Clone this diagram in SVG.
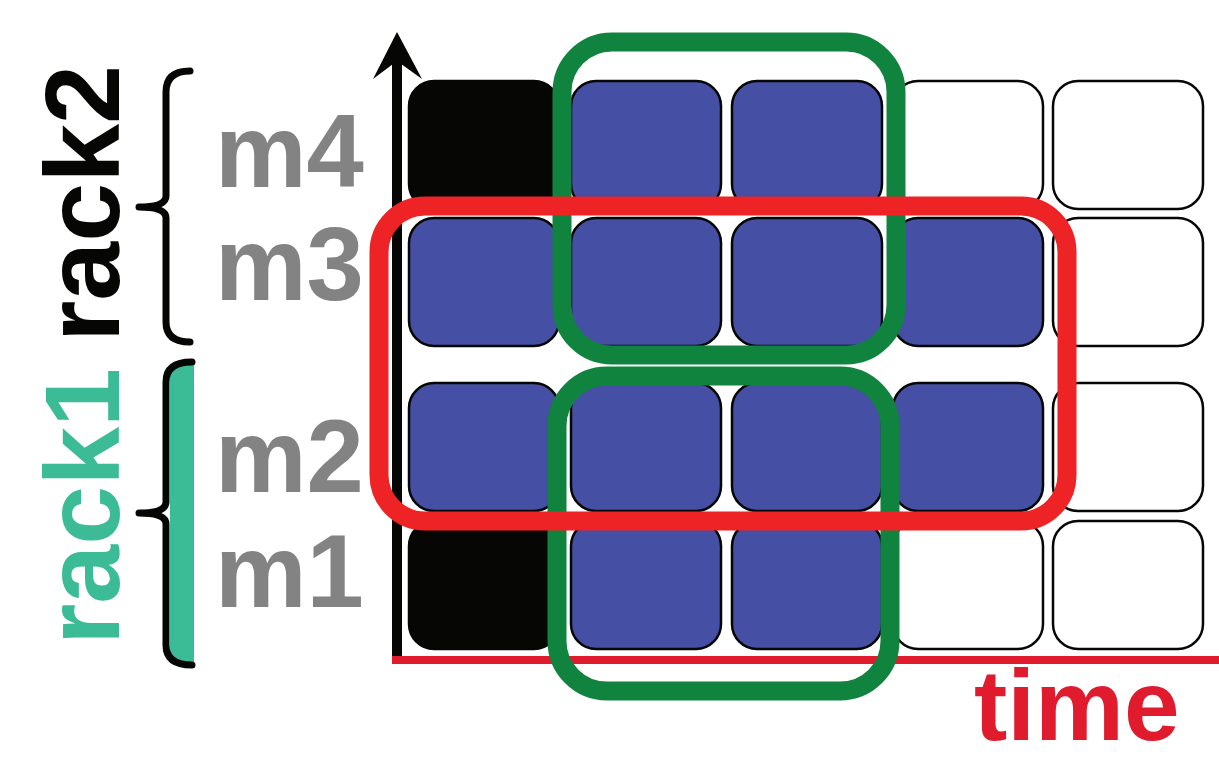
<svg xmlns="http://www.w3.org/2000/svg" width="1219" height="759" viewBox="0 0 1219 759">
  <style>
    .cell { stroke: #060604; stroke-width: 2.5; }
    .busy { fill: #454FA3; }
    .idle { fill: #ffffff; }
    .blocked { fill: #060604; }
    .lbl { font-family: "Liberation Sans", Arial, sans-serif; font-weight: bold; }
    .m { fill: #838383; font-size: 103px; }
    .rack { font-size: 106px; }
    .brace { fill: none; stroke: #060604; stroke-width: 7; stroke-linecap: round; stroke-linejoin: round; }
    .grp-green { fill: none; stroke: #10833F; stroke-width: 19; }
    .grp-red { fill: none; stroke: #EE2326; stroke-width: 19; }
  </style>
  <rect width="1219" height="759" fill="#ffffff"/>

  <!-- rack labels and braces -->
  <g id="rack2">
    <text class="lbl rack" fill="#060604" transform="translate(119,342) rotate(-90)">rack2</text>
    <path class="brace" d="M190,71 Q166,71 166,92 V196 Q166,207 139,207 Q166,207 166,218 V322 Q166,342 190,342"/>
  </g>
  <g id="rack1">
    <text class="lbl rack" fill="#3BBC96" transform="translate(119,645) rotate(-90)">rack1</text>
    <path d="M170,365 H194 V662 H170 Z" fill="#3BBC96"/>
    <path class="brace" d="M192,362 Q166,362 166,382 V502 Q166,513 139,513 Q166,513 166,524 V645 Q166,665 192,665"/>
  </g>

  <!-- machine labels -->
  <g id="labels">
    <text class="lbl m" x="215" y="187">m4</text>
    <text class="lbl m" x="215" y="300">m3</text>
    <text class="lbl m" x="215" y="492">m2</text>
    <text class="lbl m" x="215" y="607">m1</text>
  </g>

  <!-- grid of time slots per machine -->
  <g id="row-m4">
    <rect class="cell blocked" x="409" y="81" width="150" height="128" rx="25"/>
    <rect class="cell busy" x="571" y="81" width="150" height="128" rx="25"/>
    <rect class="cell busy" x="732" y="81" width="150" height="128" rx="25"/>
    <rect class="cell idle" x="893" y="81" width="150" height="128" rx="25"/>
    <rect class="cell idle" x="1053" y="81" width="150" height="128" rx="25"/>
  </g>
  <g id="row-m3">
    <rect class="cell busy" x="409" y="218" width="150" height="128" rx="25"/>
    <rect class="cell busy" x="571" y="218" width="150" height="128" rx="25"/>
    <rect class="cell busy" x="732" y="218" width="150" height="128" rx="25"/>
    <rect class="cell busy" x="893" y="218" width="150" height="128" rx="25"/>
    <rect class="cell idle" x="1053" y="218" width="150" height="128" rx="25"/>
  </g>
  <g id="row-m2">
    <rect class="cell busy" x="409" y="383" width="150" height="128" rx="25"/>
    <rect class="cell busy" x="571" y="383" width="150" height="128" rx="25"/>
    <rect class="cell busy" x="732" y="383" width="150" height="128" rx="25"/>
    <rect class="cell busy" x="893" y="383" width="150" height="128" rx="25"/>
    <rect class="cell idle" x="1053" y="383" width="150" height="128" rx="25"/>
  </g>
  <g id="row-m1">
    <rect class="cell blocked" x="409" y="521" width="150" height="128" rx="25"/>
    <rect class="cell busy" x="571" y="521" width="150" height="128" rx="25"/>
    <rect class="cell busy" x="732" y="521" width="150" height="128" rx="25"/>
    <rect class="cell idle" x="893" y="521" width="150" height="128" rx="25"/>
    <rect class="cell idle" x="1053" y="521" width="150" height="128" rx="25"/>
  </g>

  <!-- axes -->
  <g id="axes">
    <rect x="392" y="58" width="10" height="598" fill="#060604"/>
    <path d="M397,32 L422,79 L397,61 L373,79 Z" fill="#060604"/>
    <rect x="392" y="656" width="827" height="8" fill="#E01B2E"/>
  </g>

  <!-- task groupings -->
  <g id="groups">
    <rect class="grp-green" x="562" y="42" width="334" height="313" rx="50"/>
    <rect class="grp-green" x="557" y="376" width="333" height="315" rx="50"/>
    <rect class="grp-red" x="379" y="206" width="688" height="315" rx="46"/>
  </g>

  <g id="time-label">
    <text class="lbl" x="974" y="740" font-size="100" fill="#E01B2E">time</text>
  </g>
</svg>
